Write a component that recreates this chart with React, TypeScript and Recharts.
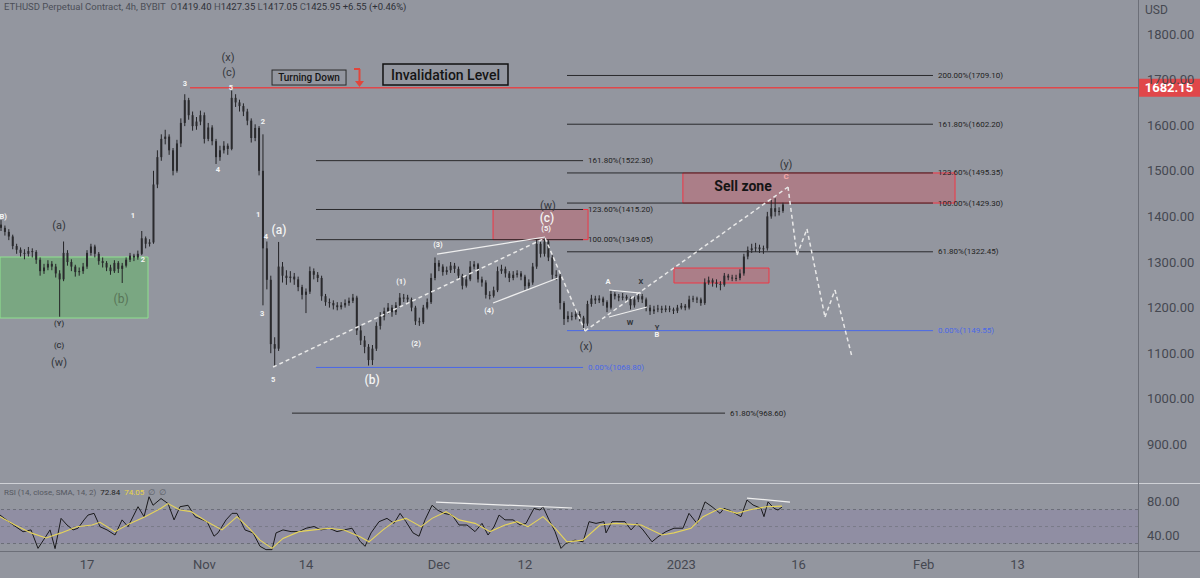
import React from 'react';
import {
  ComposedChart, Bar, Line, Scatter, XAxis, YAxis,
  ReferenceLine, ReferenceArea, ReferenceDot,
} from 'recharts';

const FONT = 'Roboto, "DejaVu Sans", sans-serif';
const BG = '#93969f';
const AXIS_TEXT = '#454851';

// ---- time: days since 17 Oct 2022 -------------------------------------
const T_MIN = -11.13;
const T_MAX = 134.4;
const candleStartDay = -11; // 6 Oct 2022
const candleStepDays = 0.5; // 12h candles

const timeTicks = [0, 15, 28, 45, 56, 76, 91, 107, 119];
const timeTickLabels = ['17', 'Nov', '14', 'Dec', '12', '2023', '16', 'Feb', '13'];

const priceTicks = [900, 1000, 1100, 1200, 1300, 1400, 1500, 1600, 1700, 1800];

// ---- ETHUSD candles ---------------------------------------------------------
const opens = [
  1382,1375,1366,1356,1335,1327,1320,1318,1324,1322,
  1305,1280,1288,1296,1290,1275,1262,1320,1300,1290,
  1278,1280,1290,1320,1334,1318,1302,1298,1288,1280,
  1298,1285,1292,1305,1314,1310,1318,1352,1340,1343,
  1470,1530,1570,1575,1545,1500,1560,1605,1655,1622,
  1598,1608,1622,1570,1595,1565,1530,1545,1555,1548,
  1660,1650,1642,1630,1610,1572,1594,1500,1330,1261,
  1120,1110,1290,1270,1265,1268,1262,1245,1228,1235,
  1280,1272,1265,1225,1212,1210,1205,1201,1205,1210,
  1215,1222,1150,1128,1114,1085,1110,1160,1180,1192,
  1200,1190,1205,1222,1222,1218,1200,1170,1168,1200,
  1212,1265,1298,1290,1278,1282,1292,1285,1270,1248,
  1262,1290,1295,1262,1255,1228,1226,1238,1280,1285,
  1275,1265,1272,1275,1268,1247,1255,1290,1340,1318,
  1345,1310,1272,1270,1210,1175,1182,1180,1186,1178,
  1165,1208,1220,1216,1220,1212,1200,1230,1225,1222,
  1224,1220,1205,1218,1225,1218,1200,1192,1196,1198,
  1195,1198,1196,1193,1200,1204,1200,1218,1220,1218,
  1210,1255,1260,1255,1252,1250,1270,1266,1264,1265,
  1275,1312,1326,1330,1332,1328,1330,1400,1418,1410,
  1412,
];
const highs = [
  1392,1380,1372,1360,1340,1332,1328,1333,1330,1326,
  1310,1296,1304,1302,1296,1282,1345,1326,1306,1294,
  1288,1298,1326,1340,1338,1322,1310,1302,1294,1304,
  1302,1298,1310,1320,1318,1325,1368,1356,1350,1500,
  1545,1580,1590,1580,1550,1568,1615,1668,1660,1630,
  1618,1632,1628,1605,1600,1570,1555,1565,1560,1676,
  1668,1656,1648,1636,1615,1602,1598,1580,1345,1270,
  1135,1344,1300,1282,1280,1276,1268,1250,1242,1290,
  1286,1278,1270,1230,1220,1216,1212,1212,1218,1222,
  1230,1226,1160,1138,1120,1118,1168,1190,1200,1210,
  1206,1212,1232,1230,1228,1222,1204,1178,1206,1220,
  1275,1310,1304,1295,1290,1300,1298,1290,1274,1270,
  1302,1302,1298,1268,1260,1236,1246,1290,1294,1290,
  1280,1280,1282,1280,1272,1262,1298,1350,1344,1353,
  1348,1315,1282,1275,1214,1192,1190,1194,1192,1182,
  1215,1228,1226,1227,1224,1216,1238,1234,1230,1232,
  1228,1224,1224,1234,1230,1222,1206,1204,1206,1204,
  1205,1204,1200,1206,1210,1208,1226,1226,1224,1222,
  1264,1268,1264,1262,1258,1276,1274,1272,1272,1284,
  1318,1334,1340,1342,1338,1336,1410,1436,1440,1420,
  1430,
];
const lows = [
  1368,1358,1348,1328,1318,1312,1306,1312,1310,1296,
  1270,1274,1282,1282,1266,1180,1258,1292,1280,1268,
  1270,1274,1285,1314,1310,1294,1288,1280,1272,1276,
  1276,1254,1288,1300,1302,1305,1315,1330,1334,1340,
  1462,1522,1558,1535,1490,1496,1552,1598,1612,1588,
  1590,1600,1560,1565,1556,1515,1522,1538,1535,1545,
  1640,1630,1620,1600,1562,1565,1490,1205,1240,1100,
  1072,1105,1255,1250,1255,1250,1236,1218,1188,1230,
  1262,1256,1215,1204,1200,1196,1194,1196,1200,1204,
  1210,1140,1118,1100,1073,1074,1105,1152,1172,1186,
  1180,1184,1200,1212,1210,1192,1162,1160,1164,1196,
  1208,1260,1280,1270,1272,1276,1276,1262,1240,1244,
  1258,1284,1255,1246,1220,1218,1222,1234,1274,1266,
  1256,1260,1266,1260,1238,1240,1250,1285,1310,1312,
  1302,1262,1260,1196,1162,1168,1172,1174,1170,1150,
  1160,1202,1208,1210,1204,1190,1196,1218,1214,1216,
  1212,1196,1200,1212,1210,1192,1184,1186,1190,1188,
  1190,1190,1186,1188,1196,1194,1196,1212,1210,1204,
  1206,1250,1246,1244,1238,1246,1260,1258,1258,1260,
  1270,1306,1320,1322,1320,1318,1325,1395,1400,1402,
  1408,
];
const closes = [
  1375,1366,1356,1335,1327,1320,1318,1324,1322,1305,
  1280,1288,1296,1290,1275,1262,1320,1300,1290,1278,
  1280,1290,1320,1334,1318,1302,1298,1288,1280,1298,
  1285,1292,1305,1314,1310,1318,1352,1340,1343,1470,
  1530,1570,1575,1545,1500,1560,1605,1655,1622,1598,
  1608,1622,1570,1595,1565,1530,1545,1555,1548,1660,
  1650,1642,1630,1610,1572,1594,1500,1330,1261,1120,
  1110,1290,1270,1265,1268,1262,1245,1228,1235,1280,
  1272,1265,1225,1212,1210,1205,1201,1205,1210,1215,
  1222,1150,1128,1114,1085,1110,1160,1180,1192,1200,
  1190,1205,1222,1222,1218,1200,1170,1168,1200,1212,
  1265,1298,1290,1278,1282,1292,1285,1270,1248,1262,
  1290,1295,1262,1255,1228,1226,1238,1280,1285,1275,
  1265,1272,1275,1268,1247,1255,1290,1340,1318,1345,
  1310,1272,1270,1210,1175,1182,1180,1186,1178,1165,
  1208,1220,1216,1220,1212,1200,1230,1225,1222,1224,
  1220,1205,1218,1225,1218,1200,1192,1196,1198,1195,
  1198,1196,1193,1200,1204,1200,1218,1220,1218,1210,
  1255,1260,1255,1252,1250,1270,1266,1264,1265,1275,
  1312,1326,1330,1332,1328,1330,1400,1418,1410,1412,
  1426,
];

const candles = closes.map((c, i) => ({
  t: candleStartDay + i * candleStepDays,
  open: opens[i], high: highs[i], low: lows[i], close: c,
  range: [lows[i], highs[i]],
}));

// ---- RSI (14) and its SMA -------------------------------------------------
const rsiT = [
  -11.13,-9.72,-8.18,-7.16,-6.27,-5.24,-4.73,-4.09,-3.32,-2.56,-1.79,-1.15,-0.38,0.13,0.9,1.66,2.56,3.58,4.48,5.24,
  6.52,7.29,7.93,8.44,9.46,10.36,11.13,11.89,12.92,13.81,15.35,16.24,16.75,17.78,18.54,19.18,20.2,21.23,22.12,22.89,
  23.66,24.17,25.06,26.09,27.11,28.01,29.03,29.92,30.95,31.97,32.87,33.89,34.91,35.55,36.32,37.34,38.36,39.26,40.03,40.79,
  41.69,42.46,43.22,44.12,44.88,45.65,46.68,47.57,48.59,49.62,50.51,51.28,52.05,52.69,53.45,54.48,55.37,56.14,57.16,57.93,
  58.31,59.08,59.85,60.61,61.25,62.41,63.43,64.2,65.09,66.11,66.37,67.14,68.8,69.57,70.33,71.1,72.25,73.02,74.04,75.06,
  76.21,76.98,78.0,79.03,79.92,80.95,81.46,82.48,83.63,84.4,85.17,86.19,86.57,87.09,87.85,88.36,88.87,
];
const rsiV = [
  63.5,53.7,43.9,46,24.3,38.7,46,24,59.6,51.8,46,48,57.8,63.5,65.5,49.8,46,40,57.8,49.8,
  73.3,61.6,85,75,82.9,77,57.8,73.3,75,61.6,55.7,38.6,42.5,57.8,65.5,65.5,46,42.5,26.7,22.8,
  22.8,42.5,46,44,44,48,50,46,48,44,46,48,32.7,26.7,42.5,55.7,59.6,53.7,65.5,55.7,
  42.5,38.6,57.8,75,69,65.5,63.5,51.8,51.8,44,53.7,40,49.8,63.5,57.8,57.8,51.8,53.7,71.4,69.4,
  73.3,57.8,44,24.3,30.2,34,32,55.7,53.7,55.7,42.5,55.7,55.7,46,53.7,46,32,38,44,48,
  48,65.5,53.7,79,73.3,65.5,71.4,67.5,61.6,81.2,75.3,71.4,61.6,79,71.4,69.4,72.84,
];
const smaT = [
  -11.13,-9.21,-7.16,-5.24,-3.32,-1.28,0.64,1.66,3.58,5.5,7.42,9.46,10.36,11.89,13.3,15.35,17.26,19.18,20.72,22.12,
  23.66,25.06,27.11,29.03,30.95,32.87,34.91,36.06,37.85,39.26,40.79,42.71,44.12,45.91,47.57,49.62,51.54,53.45,54.99,56.39,
  58.31,59.85,61.38,63.43,65.6,67.65,70.85,73.53,75.06,77.24,78.77,80.95,83.12,84.66,86.83,88.87,
];
const smaV = [
  61.6,51.8,42.5,36.5,42.5,49.8,51.8,55,44,53.7,61.6,71.4,77,69.4,67.5,55.7,46,61.6,48,34,
  24.3,36,44,46,48,46,38,32,46,55.7,59.6,49.8,59.6,67.5,57.8,53.7,44,51.8,55.7,49.8,
  61.6,48,32,34,51.8,53.7,51.8,40,42.5,48,61.6,71.4,65.5,69.4,73.3,74.05,
];
const rsiData = rsiT.map((t, i) => ({ t, v: rsiV[i] }));
const smaData = smaT.map((t, i) => ({ t, v: smaV[i] }));

// ---- Fibonacci levels -----------------------------------------------------
const fibA_levels = [1709.10, 1602.20, 1495.35, 1429.30, 1322.45, 1149.55];
const fibA_ratios = ['200.00%', '161.80%', '123.60%', '100.00%', '61.80%', '0.00%'];
const fibA_span = [61.38, 108.18];
const fibB_levels = [1522.30, 1415.20, 1349.05, 1068.80];
const fibB_ratios = ['161.80%', '123.60%', '100.00%', '0.00%'];
const fibB_span = [29.28, 63.43];
const fibC_levels = [968.60];
const fibC_ratios = ['61.80%'];
const fibC_span = [26.21, 81.59];

const fibSets = [
  { levels: fibA_levels, ratios: fibA_ratios, span: fibA_span },
  { levels: fibB_levels, ratios: fibB_ratios, span: fibB_span },
  { levels: fibC_levels, ratios: fibC_ratios, span: fibC_span },
];
const fibLines = fibSets.flatMap((s) =>
  s.levels.map((p, i) => ({ t1: s.span[0], t2: s.span[1], p, ratio: s.ratios[i] })));
const fibLabels = fibLines.map((f) => ({
  t: f.t2, p: f.p, text: `${f.ratio}(${f.p.toFixed(2)})`, blue: f.ratio === '0.00%',
}));

// ---- invalidation level ---------------------------------------------------
const invalidationPrice = 1682.15;
const invalidationStartT = 13.17;

// ---- zones (t1, t2, p1, p2) -------------------------------------------------
const greenZone = [-11.13, 7.8, 1177.2, 1311];
const redZoneW = [51.92, 64.07, 1349.05, 1415.2];
const sellZone = [76.2, 111.0, 1429.3, 1495.35];
const redZoneSmall = [75.06, 87.21, 1254, 1286.8];

// ---- projected path (dashed) -----------------------------------------------
const projT = [23.79, 58.57, 63.68, 89.64, 90.79, 92.07, 94.37, 95.65, 97.83];
const projP = [1069.7, 1352.6, 1148.7, 1464.5, 1315.3, 1372.4, 1179.4, 1238.6, 1091.7];

// ---- trend lines (solid white) ----------------------------------------------
const trendLines = [
  [[44.76, 1317.5], [58.57, 1354.8]],
  [[51.92, 1210.1], [60.23, 1264.9]],
  [[66.75, 1238.6], [70.84, 1232.0]],
  [[66.75, 1179.4], [71.61, 1201.3]],
];
const rsiTrendLines = [
  [[44.63, 78.8], [62.02, 71.8]],
  [[84.4, 83.5], [89.9, 78.8]],
];

// ---- wave / text annotations ------------------------------------------------
const annotations = [
  { text: '(B)', t: -10.9, p: 1399, kind: 'whiteSmall' },
  { text: '(a)', t: -3.58, p: 1381, kind: 'dark' },
  { text: '1', t: 5.88, p: 1403, kind: 'whiteSmall' },
  { text: '2', t: 7.16, p: 1306.6, kind: 'whiteSmall' },
  { text: '(b)', t: 4.35, p: 1219, kind: 'green' },
  { text: '(Y)', t: -3.58, p: 1166, kind: 'darkSmall' },
  { text: '(C)', t: -3.58, p: 1118, kind: 'darkSmall' },
  { text: '(w)', t: -3.58, p: 1080.7, kind: 'dark' },
  { text: '3', t: 12.53, p: 1690.4, kind: 'whiteSmall' },
  { text: '(x)', t: 18.03, p: 1749.6, kind: 'dark' },
  { text: '(c)', t: 18.16, p: 1716.7, kind: 'dark' },
  { text: '5', t: 18.41, p: 1683.8, kind: 'whiteSmall' },
  { text: '4', t: 16.75, p: 1501.8, kind: 'whiteSmall' },
  { text: '2', t: 22.5, p: 1609.2, kind: 'whiteSmall' },
  { text: '1', t: 21.87, p: 1405.3, kind: 'whiteSmall' },
  { text: '4', t: 22.89, p: 1357, kind: 'whiteSmall' },
  { text: '(a)', t: 24.55, p: 1370.2, kind: 'white' },
  { text: '3', t: 22.38, p: 1188.2, kind: 'whiteSmall' },
  { text: '5', t: 23.79, p: 1043.4, kind: 'whiteSmall' },
  { text: '(1)', t: 40.15, p: 1258.3, kind: 'whiteSmall' },
  { text: '(2)', t: 42.07, p: 1122.4, kind: 'whiteSmall' },
  { text: '(3)', t: 44.88, p: 1339.5, kind: 'whiteSmall' },
  { text: '(4)', t: 51.41, p: 1194.7, kind: 'whiteSmall' },
  { text: '(5)', t: 58.7, p: 1374.6, kind: 'whiteSmall' },
  { text: '(c)', t: 58.82, p: 1396.5, kind: 'white' },
  { text: '(w)', t: 58.95, p: 1425, kind: 'dark' },
  { text: '(b)', t: 36.45, p: 1041.2, kind: 'white' },
  { text: '(x)', t: 63.81, p: 1115.8, kind: 'dark' },
  { text: 'A', t: 66.62, p: 1258.3, kind: 'whiteSmall' },
  { text: 'X', t: 70.84, p: 1258.3, kind: 'darkSmall' },
  { text: 'W', t: 69.44, p: 1168.4, kind: 'darkSmall' },
  { text: 'Y', t: 72.89, p: 1156.5, kind: 'darkSmall' },
  { text: 'B', t: 72.89, p: 1141.0, kind: 'whiteSmall' },
  { text: '(y)', t: 89.39, p: 1514.9, kind: 'dark' },
  { text: 'C', t: 89.39, p: 1488.6, kind: 'pink' },
  { text: 'Sell zone', t: 83.89, p: 1466.7, kind: 'sell' },
  { text: 'Turning Down', t: 28.39, p: 1704.6, kind: 'boxSmall' },
  { text: 'Invalidation Level', t: 45.84, p: 1711.2, kind: 'boxLarge' },
  { text: '', t: 34.78, p: 1703.5, kind: 'arrow' },
];

// ---- styles ---------------------------------------------------------------
const labelStyles: Record<string, { fontSize: number; fill: string; fontWeight: number }> = {
  dark: { fontSize: 11, fill: '#34363c', fontWeight: 400 },
  darkSmall: { fontSize: 7.5, fill: '#34363c', fontWeight: 700 },
  white: { fontSize: 12, fill: '#f4f4f4', fontWeight: 500 },
  whiteSmall: { fontSize: 7.5, fill: '#f4f4f4', fontWeight: 700 },
  green: { fontSize: 12, fill: '#587457', fontWeight: 400 },
  pink: { fontSize: 8, fill: '#f7a9a9', fontWeight: 700 },
  sell: { fontSize: 14, fill: '#151515', fontWeight: 700 },
};

function Candle(props: any) {
  const { x, y, width, height, payload } = props;
  if (x == null || y == null || !payload) return null;
  const top = Math.min(y, y + height);
  const bot = Math.max(y, y + height);
  const span = payload.high - payload.low || 1;
  const k = (bot - top) / span;
  const yO = top + (payload.high - payload.open) * k;
  const yC = top + (payload.high - payload.close) * k;
  const cx = x + width / 2;
  const bTop = Math.min(yO, yC);
  const bH = Math.max(1, Math.abs(yO - yC));
  return (
    <g>
      <line x1={cx} x2={cx} y1={top} y2={bot} stroke="#232326" strokeWidth={1} />
      <rect x={cx - 1} y={bTop} width={2} height={bH} fill="#2a2a2d" />
    </g>
  );
}

function Annotation(props: any) {
  const { cx, cy, payload } = props;
  if (cx == null || cy == null || !payload) return null;
  const kind = payload.kind;
  if (kind === 'arrow') {
    return (
      <g>
        <path d={`M${cx - 5},${cy - 9} H${cx + 1} M${cx + 0.5},${cy - 9} V${cy + 4}`} stroke="#e0463c" strokeWidth={2} fill="none" />
        <path d={`M${cx - 4},${cy + 3} L${cx + 5},${cy + 3} L${cx + 0.5},${cy + 9} Z`} fill="#e0463c" />
      </g>
    );
  }
  if (kind === 'boxSmall' || kind === 'boxLarge') {
    const big = kind === 'boxLarge';
    const w = big ? 125 : 74;
    const h = big ? 21 : 15;
    return (
      <g>
        <rect x={cx - w / 2} y={cy - h / 2} width={w} height={h} fill="none" stroke={big ? '#111' : '#2a2a2a'} strokeWidth={big ? 1.5 : 1} />
        <text x={cx} y={cy} textAnchor="middle" dominantBaseline="central" fontFamily={FONT}
          fontSize={big ? 14 : 10} fontWeight={500} fill="#151515">{payload.text}</text>
      </g>
    );
  }
  const s = labelStyles[kind];
  return (
    <text x={cx} y={cy} textAnchor="middle" dominantBaseline="central" fontFamily={FONT}
      fontSize={s.fontSize} fontWeight={s.fontWeight} fill={s.fill}>{payload.text}</text>
  );
}

function FibLabel(props: any) {
  const { cx, cy, payload } = props;
  if (cx == null || cy == null || !payload) return null;
  return (
    <text x={cx + 5} y={cy} textAnchor="start" dominantBaseline="central" fontFamily={FONT}
      fontSize={8} fill={payload.blue ? '#4a68e8' : '#1f1f22'}>{payload.text}</text>
  );
}

function PriceTag(props: any) {
  const { cx, cy } = props;
  if (cx == null || cy == null) return null;
  return (
    <g>
      <rect x={cx} y={cy - 9} width={62} height={18} fill="#e0474a" />
      <text x={cx + 31} y={cy} textAnchor="middle" dominantBaseline="central" fontFamily={FONT}
        fontSize={13} fontWeight={700} fill="#ffffff">{invalidationPrice.toFixed(2)}</text>
    </g>
  );
}

const zoneArea = (z: number[], fill: string, stroke: string, opacity: number, key: string) => (
  <ReferenceArea key={key} x1={z[0]} x2={z[1]} y1={z[2]} y2={z[3]} fill={fill} fillOpacity={opacity}
    stroke={stroke} strokeWidth={1} ifOverflow="visible" />
);

export default function App() {
  const projSegments = projT.slice(1).map((t, i) => [[projT[i], projP[i]], [t, projP[i + 1]]]);
  return (
    <div style={{ position: 'absolute', left: 0, top: 0, width: 1200, height: 578, background: BG, overflow: 'hidden', fontFamily: FONT }}>
      <ComposedChart width={1200} height={483} data={candles} margin={{ top: 0, right: 0, bottom: 0, left: 0 }}>
        <XAxis type="number" dataKey="t" domain={[T_MIN, T_MAX]} hide allowDataOverflow />
        <YAxis orientation="right" width={62} domain={[815.4, 1874.6]} ticks={priceTicks} allowDataOverflow
          tickFormatter={(v: number) => v.toFixed(2)} tickLine={false} axisLine={false} tickMargin={3}
          tick={{ fill: AXIS_TEXT, fontSize: 13, fontFamily: FONT }} />
        {zoneArea(greenZone, '#4cc84c', '#8fe38f', 0.35, 'g')}
        {zoneArea(redZoneW, '#f23645', '#f23645', 0.25, 'r1')}
        {zoneArea(sellZone, '#f23645', '#f23645', 0.25, 'sz')}
        {zoneArea(redZoneSmall, '#f23645', '#f23645', 0.25, 'r2')}
        {fibLines.map((f, i) => (
          <ReferenceLine key={`fib${i}`} segment={[{ x: f.t1, y: f.p }, { x: f.t2, y: f.p }]}
            stroke={f.ratio === '0.00%' ? '#4a68e8' : '#2a2a2d'} strokeWidth={1} ifOverflow="visible" />
        ))}
        <ReferenceLine segment={[{ x: invalidationStartT, y: invalidationPrice }, { x: T_MAX, y: invalidationPrice }]}
          stroke="#e0474a" strokeWidth={1.5} ifOverflow="visible" />
        {projSegments.map((s, i) => (
          <ReferenceLine key={`pj${i}`} segment={[{ x: s[0][0], y: s[0][1] }, { x: s[1][0], y: s[1][1] }]}
            stroke="#e8e8e8" strokeWidth={1.5} strokeDasharray="4 3" ifOverflow="visible" />
        ))}
        {trendLines.map((s, i) => (
          <ReferenceLine key={`tl${i}`} segment={[{ x: s[0][0], y: s[0][1] }, { x: s[1][0], y: s[1][1] }]}
            stroke="#eeeeee" strokeWidth={1.2} ifOverflow="visible" />
        ))}
        <Bar dataKey="range" barSize={3} shape={Candle} isAnimationActive={false} />
        <Scatter data={fibLabels} dataKey="p" shape={FibLabel} isAnimationActive={false} />
        <Scatter data={annotations} dataKey="p" shape={Annotation} isAnimationActive={false} />
        <ReferenceDot x={T_MAX} y={invalidationPrice} r={0} ifOverflow="visible" shape={PriceTag} />
      </ComposedChart>

      <ComposedChart width={1200} height={95} margin={{ top: 0, right: 0, bottom: 0, left: 0 }}>
        <XAxis type="number" dataKey="t" domain={[T_MIN, T_MAX]} allowDataOverflow ticks={timeTicks} interval={0}
          tickFormatter={(v: number) => timeTickLabels[timeTicks.indexOf(v)] ?? ''}
          height={27} tickLine={false} axisLine={false} tickMargin={3}
          tick={{ fill: AXIS_TEXT, fontSize: 13, fontFamily: FONT }} />
        <YAxis orientation="right" width={62} domain={[21.2, 101.2]} ticks={[40, 80]} allowDataOverflow
          tickFormatter={(v: number) => v.toFixed(2)} tickLine={false} axisLine={false} tickMargin={3}
          tick={{ fill: AXIS_TEXT, fontSize: 13, fontFamily: FONT }} />
        <ReferenceArea y1={30} y2={70} fill="#7e57c2" fillOpacity={0.12} stroke="none" />
        <ReferenceLine y={70} stroke="#6c6f78" strokeDasharray="3 3" />
        <ReferenceLine y={50} stroke="#6c6f78" strokeDasharray="3 3" strokeOpacity={0.6} />
        <ReferenceLine y={30} stroke="#6c6f78" strokeDasharray="3 3" />
        <Line data={rsiData} dataKey="v" stroke="#1a1a1c" strokeWidth={1} dot={false} isAnimationActive={false} />
        <Line data={smaData} dataKey="v" stroke="#e6d45a" strokeWidth={1.1} dot={false} isAnimationActive={false} />
        {rsiTrendLines.map((s, i) => (
          <ReferenceLine key={`rtl${i}`} segment={[{ x: s[0][0], y: s[0][1] }, { x: s[1][0], y: s[1][1] }]}
            stroke="#eeeeee" strokeWidth={1.2} ifOverflow="visible" />
        ))}
      </ComposedChart>

      {/* pane separators */}
      <div style={{ position: 'absolute', left: 0, top: 483, width: 1200, height: 1, background: '#cfd1d6' }} />
      <div style={{ position: 'absolute', left: 0, top: 551, width: 1200, height: 1, background: '#6c6f78' }} />
      <div style={{ position: 'absolute', left: 1138, top: 0, width: 1, height: 578, background: '#6c6f78' }} />

      {/* legends */}
      <div style={{ position: 'absolute', left: 4, top: 1, fontSize: 9.5, color: '#4b4e57', whiteSpace: 'nowrap' }}>
        ETHUSD Perpetual Contract, 4h, BYBIT&nbsp;&nbsp;
        <span>O</span><span style={{ color: '#2f3138' }}>1419.40</span>{' '}
        <span>H</span><span style={{ color: '#2f3138' }}>1427.35</span>{' '}
        <span>L</span><span style={{ color: '#2f3138' }}>1417.05</span>{' '}
        <span>C</span><span style={{ color: '#2f3138' }}>1425.95</span>{' '}
        <span style={{ color: '#2f3138' }}>+6.55 (+0.46%)</span>
      </div>
      <div style={{ position: 'absolute', left: 4, top: 488, fontSize: 8, color: '#55585f', whiteSpace: 'nowrap' }}>
        RSI (14, close, SMA, 14, 2)&nbsp;&nbsp;<span style={{ color: '#222' }}>72.84</span>&nbsp;&nbsp;
        <span style={{ color: '#e8d44a' }}>74.05</span>&nbsp;&nbsp;∅&nbsp;&nbsp;∅
      </div>
      <div style={{ position: 'absolute', left: 1145, top: 3, fontSize: 12, color: AXIS_TEXT }}>USD</div>
    </div>
  );
}
